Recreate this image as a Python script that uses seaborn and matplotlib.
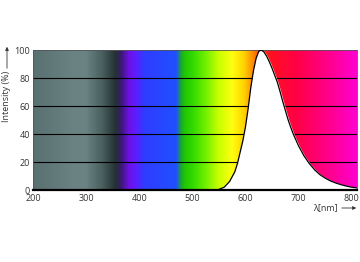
import numpy as np
import pandas as pd
import matplotlib
matplotlib.use("Agg")
import matplotlib.pyplot as plt
import seaborn as sns
from matplotlib.colors import to_rgb

# Emission spectrum (relative intensity, %)
wavelength = [540, 550, 560, 570, 580, 585, 590, 595, 600, 605, 610, 615, 620, 625,
              630, 635, 640, 645, 650, 655, 660, 665, 670, 675, 680, 685, 690, 700,
              710, 720, 730, 740, 750, 760, 770, 780, 790, 800, 810]
intensity = [0, 0.4, 2, 6, 13, 19, 27, 35, 45, 58, 73, 85, 94, 99,
             100, 98.5, 95.5, 91.5, 87, 82, 77, 70.5, 63.5, 57, 50.5, 45, 40, 31.5,
             24.5, 19, 14.5, 11, 8.5, 6.5, 5, 3.8, 2.8, 2, 1.5]

# Background spectrum colour stops
spec_wl = [200, 280, 300, 330, 355, 366, 381, 395, 410, 470, 478, 486, 500, 525,
           550, 575, 597, 614, 632, 650, 700, 760, 810]
spec_col = ["#587070", "#6b8383", "#6a8282", "#4b6060", "#243232", "#3a1a70",
            "#7010e8", "#5a20ff", "#2f3cff", "#2050ff", "#1aa040", "#20c800",
            "#30d800", "#70f000", "#c8ff00", "#ffff10", "#ffd400", "#ff8c00",
            "#ff3010", "#ff1020", "#ff0048", "#ff0090", "#ff00d0"]

y_ticks = [0, 20, 40, 60, 80, 100]
x_ticks = [200, 300, 400, 500, 600, 700, 800]

sns.set_theme(style="white")
plt.rcParams["font.family"] = ["Open Sans", "DejaVu Sans"]

fig = plt.figure(figsize=(3.6, 2.62), dpi=100)
ax = fig.add_axes([33 / 360, 1 - 190 / 262, 324 / 360, 140 / 262])

# spectrum background
grid = np.arange(200, 811, 0.5)
rgb = np.array([to_rgb(c) for c in spec_col])
img = np.stack([np.interp(grid, spec_wl, rgb[:, k]) for k in range(3)], axis=-1)
ax.imshow(img[np.newaxis, :, :], extent=[200, 810, 0, 100], aspect="auto",
          interpolation="bilinear", zorder=0)

for yv in y_ticks[1:-1]:
    ax.axhline(yv, color="black", lw=0.8, zorder=1)

df = pd.DataFrame({"wavelength": wavelength, "intensity": intensity})
ax.fill_between(df["wavelength"], df["intensity"], 0, color="white", zorder=2)
sns.lineplot(data=df, x="wavelength", y="intensity", color="black", lw=0.9,
             ax=ax, zorder=3)

ax.set_xlim(200, 810)
ax.set_ylim(0, 100)
ax.set_xticks(x_ticks)
ax.set_yticks(y_ticks)
ax.set_xlabel("")
ax.set_ylabel("")
ax.tick_params(axis="both", length=0, labelsize=6.5, colors="#333333")
ax.tick_params(axis="x", pad=3)
ax.tick_params(axis="y", pad=2)
for s in ["top", "right", "left"]:
    ax.spines[s].set_color("#555555")
    ax.spines[s].set_linewidth(0.6)
ax.spines["bottom"].set_color("black")
ax.spines["bottom"].set_linewidth(1.6)
ax.spines["bottom"].set_zorder(4)

def fx(px):
    return px / 360

def fy(py):
    return 1 - py / 262

fig.text(fx(7), fy(96), "Intensity (%)", rotation=90, ha="center", va="center",
         fontsize=6.5, color="#333333")
fig.add_artist(matplotlib.patches.FancyArrowPatch(
    (fx(7), fy(71)), (fx(7), fy(44)), transform=fig.transFigure,
    arrowstyle="-|>", mutation_scale=5, lw=0.6, color="#333333"))

fig.text(fx(338), fy(208), "λ[nm]", ha="right", va="center", fontsize=6.5,
         color="#333333")
fig.add_artist(matplotlib.patches.FancyArrowPatch(
    (fx(339), fy(208)), (fx(359), fy(208)), transform=fig.transFigure,
    arrowstyle="-|>", mutation_scale=5, lw=0.6, color="#333333"))

fig.savefig("out.png", dpi=100)
